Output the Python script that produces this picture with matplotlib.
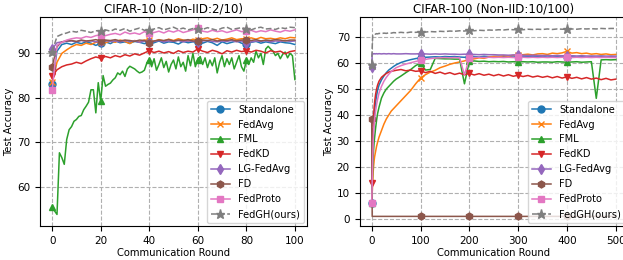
import matplotlib
matplotlib.use("Agg")
import matplotlib.pyplot as plt

# ---- CIFAR-10, rounds 0..100 (every 2nd round) ----
rounds10 = list(range(0, 101, 2))
rounds10_fml = list(range(0, 101))

c10_standalone = [83.1, 90.5, 92.0, 92.3, 92.0, 92.5, 92.2, 92.6, 92.3, 91.8,
                  92.3, 92.6, 92.2, 92.8, 92.4, 92.6, 92.3, 92.7, 92.5, 92.2,
                  92.6, 92.4, 92.8, 92.3, 92.6, 92.5, 92.1, 92.7, 92.4, 92.6,
                  92.5, 92.3, 92.7, 92.4, 91.8, 92.6, 92.2, 92.5, 92.8, 92.3,
                  92.1, 92.5, 92.7, 92.3, 92.6, 92.4, 92.2, 92.6, 92.4, 92.3,
                  92.0]
c10_fedavg = [83.5, 88.0, 90.0, 90.8, 91.5, 92.0, 91.8, 92.3, 92.0, 92.5,
              92.6, 92.4, 92.8, 92.5, 93.0, 92.7, 92.2, 92.9, 92.6, 93.0,
              93.0, 92.7, 93.1, 92.8, 93.2, 92.9, 93.3, 93.0, 92.8, 93.2,
              93.0, 93.3, 93.5, 93.1, 93.4, 93.0, 93.2, 93.5, 93.1, 93.3,
              93.3, 93.5, 93.2, 93.6, 93.3, 93.4, 93.2, 93.5, 93.3, 93.6,
              93.5]
c10_fml = [55.3, 54.5, 53.7, 67.6, 66.5, 65.0, 70.6, 72.8, 73.5, 74.7,
           75.1, 75.8, 76.0, 77.3, 78.1, 79.0, 81.8, 81.8, 76.6, 83.4,
           79.2, 85.0, 82.6, 83.0, 83.3, 84.0, 84.5, 85.6, 85.2, 86.0,
           84.8, 86.5, 87.1, 86.8, 86.5, 86.0, 85.6, 85.8, 86.2, 87.8,
           88.6, 87.0, 88.8, 86.2, 87.5, 89.0, 86.8, 88.2, 85.8, 87.5,
           88.5, 86.5, 89.2, 87.0, 88.0, 86.0, 89.5, 87.2, 90.0, 87.0,
           88.6, 89.3, 87.5, 89.0, 86.8, 88.5, 87.2, 89.0, 85.6, 88.0,
           89.5, 87.0, 88.8, 87.5, 89.0, 86.5, 88.0, 89.5, 87.0, 86.0,
           88.4, 87.5, 89.0, 88.0, 90.5, 89.0, 90.0, 87.5, 91.0, 91.6,
           91.0, 90.5, 89.5, 90.0, 88.8, 89.8, 90.3, 89.0, 90.0, 89.5,
           84.1]
c10_fedkd = [84.8, 86.3, 87.0, 87.4, 87.6, 88.0, 87.7, 88.3, 88.8, 89.2,
             88.9, 89.3, 89.0, 89.5, 89.2, 89.7, 89.4, 89.9, 89.6, 90.1,
             90.6, 90.2, 90.5, 90.1, 90.4, 90.0, 90.6, 90.2, 90.5, 90.3,
             91.0, 90.5, 90.2, 90.7, 90.4, 89.9, 90.6, 90.3, 90.7, 90.4,
             90.6, 90.3, 90.7, 90.5, 90.1, 90.6, 90.3, 90.5, 89.9, 90.4,
             90.6]
c10_lgfedavg = [91.0, 92.4, 92.6, 92.7, 92.8, 92.6, 92.9, 92.7, 92.8, 92.6,
                92.8, 92.9, 92.7, 92.8, 92.6, 92.9, 92.7, 92.8, 92.5, 92.8,
                92.5, 92.7, 92.9, 92.6, 92.8, 92.7, 92.9, 92.6, 92.8, 92.7,
                92.6, 92.8, 92.9, 92.7, 92.6, 92.8, 92.7, 92.9, 92.6, 92.8,
                92.3, 92.6, 92.8, 92.7, 92.9, 92.6, 92.8, 92.7, 92.9, 92.7,
                92.8]
c10_fd = [87.0, 91.5, 92.6, 92.8, 92.9, 92.7, 93.0, 92.8, 92.9, 93.1,
          92.8, 93.0, 92.9, 93.1, 92.8, 93.0, 92.9, 92.7, 93.0, 92.9,
          92.4, 92.8, 93.0, 92.9, 93.1, 92.8, 93.0, 92.9, 93.1, 92.8,
          92.8, 93.0, 92.9, 93.1, 92.8, 93.0, 92.9, 93.1, 92.8, 93.0,
          93.0, 92.9, 93.1, 92.8, 93.0, 92.9, 93.1, 93.0, 92.8, 93.0,
          93.0]
c10_fedproto = [81.7, 91.8, 92.5, 93.0, 93.3, 93.5, 93.4, 93.8, 93.6, 94.0,
                94.2, 94.0, 94.3, 94.5, 94.2, 94.8, 94.4, 94.6, 94.3, 94.9,
                94.5, 94.7, 95.0, 94.6, 95.1, 94.8, 95.2, 94.7, 95.0, 95.3,
                95.8, 95.0, 94.8, 95.2, 94.9, 95.1, 94.7, 95.0, 95.3, 94.9,
                95.0, 95.2, 94.8, 95.1, 94.9, 95.3, 95.0, 94.8, 95.2, 95.0,
                95.3]
c10_fedgh = [90.4, 93.8, 94.3, 94.6, 95.0, 94.8, 95.2, 95.0, 94.7, 95.1,
             95.1, 95.3, 95.0, 95.5, 95.2, 95.6, 95.0, 95.4, 95.7, 95.2,
             95.2, 95.5, 95.8, 95.3, 95.6, 95.9, 95.4, 95.7, 95.3, 95.6,
             95.6, 95.4, 95.8, 95.5, 95.2, 95.7, 95.9, 95.4, 95.6, 95.8,
             95.5, 95.3, 95.7, 95.9, 95.5, 95.6, 95.4, 95.8, 95.6, 95.9,
             95.8]

# ---- CIFAR-100, rounds 0..500 ----
rounds100 = [0, 1, 2, 3, 4, 5, 6, 8, 10, 12, 15, 20, 25, 30, 35, 40, 45, 50] + list(range(60, 501, 10))
rounds100_fd = [0, 1, 100, 200, 300, 400, 500]

c100_standalone = [6, 15, 24, 31, 36, 39, 41.5, 45, 47.5, 49.5, 51.5, 53.5, 55, 56.3, 57.3, 58, 58.7, 59.3,
                   60.2, 60.8, 61.3, 61.7, 62.0, 62.2, 62.3, 62.4, 62.3, 62.5,
                   62.4, 62.5, 62.3, 62.2, 62.4, 62.5, 62.3, 62.6, 62.4, 62.5,
                   62.6, 62.4, 62.5, 62.3, 62.6, 62.4, 62.5, 62.6, 62.4, 62.5,
                   62.3, 62.5, 62.6, 62.4, 62.5, 62.6, 62.4, 62.5, 62.3, 62.5,
                   62.4, 62.6, 62.5, 62.4, 62.5]
c100_fedavg = [6, 10, 14, 18, 20.5, 22.5, 24, 26, 28, 29.5, 31.5, 34, 36.5, 38.5, 40, 41.5, 42.5, 43.5,
               45.5, 47.5, 49.5, 52, 54.2, 55.5, 56.5, 57.2, 58.2, 58.8,
               59.5, 60, 60.4, 60.8, 61.5, 61.6, 62, 61.8, 62.3, 62.5,
               62.4, 62.8, 62.6, 63, 63, 63.2, 63.4, 63.1, 63.5, 63.6,
               63.3, 63.8, 63.6, 63.9, 64.5, 63.8, 64, 63.6, 63.8, 63.4,
               63.6, 63.3, 63.5, 63.2, 63.3]
c100_fml = [6, 13, 19, 24, 27, 29.5, 31.5, 35, 38, 40.5, 43, 46.5, 48.5, 50, 51, 52, 53, 53.8,
            55, 56.3, 57.5, 59, 60, 57.3, 57.5, 61.8, 61.7, 61.6,
            61.6, 61.5, 61.5, 52, 60.6, 60.8, 60.6, 60.7, 60.5, 60.6,
            60.5, 60.6, 60.4, 60.5, 60.4, 60.5, 60.4, 60.5, 60.3, 60.4,
            60.4, 60.3, 60.5, 60.4, 60.3, 60.4, 60.5, 60.3, 60.4, 60.5,
            46.4, 61.2, 61.3, 61.2, 61.3]
c100_fedkd = [14, 22, 30, 36, 40, 43, 45, 48, 50, 51.5, 53, 54.5, 55.3, 56, 56.5, 56.8, 57, 57.2,
              57.5, 57, 57.3, 56.8, 57, 56.3, 56.8, 56, 56.5, 55.8,
              56.3, 55.6, 56.1, 55.5, 56, 55.4, 55.9, 55.3, 55.7, 55.1,
              55.6, 55, 55.5, 54.9, 55.3, 54.8, 55.2, 54.6, 55, 54.5,
              54.9, 54.3, 54.8, 54.2, 54.7, 54.1, 54.5, 53.9, 54.4, 53.8,
              54.2, 53.6, 54.1, 53.5, 53.8]
c100_lgfedavg = [58.5, 63.5, 63.6, 63.5, 63.6, 63.5, 63.6, 63.5, 63.6, 63.5, 63.6, 63.5, 63.6, 63.5, 63.6, 63.5, 63.6, 63.5,
                 63.5, 63.6, 63.5, 63.5, 63.6, 63.5, 63.4, 63.5, 63.4, 63.5,
                 63.4, 63.4, 63.3, 63.4, 63.3, 63.3, 63.2, 63.3, 63.2, 63.2,
                 63.1, 63.1, 63.0, 63.1, 63.0, 63.0, 62.9, 63.0, 62.9, 62.9,
                 62.9, 62.8, 62.9, 62.8, 62.8, 62.8, 62.7, 62.8, 62.7, 62.7,
                 62.7, 62.7, 62.6, 62.7, 62.6]
c100_fd = [38.5, 1.0, 1.0, 1.0, 1.0, 1.0, 1.0]
c100_fedproto = [6, 14, 22, 30, 34, 36.5, 38.5, 41.5, 44, 46, 48.5, 51, 53, 54.5, 55.7, 56.7, 57.5, 58.2,
                 59, 59.6, 60.1, 60.6, 61.0, 61.4, 61.7, 61.9, 62.0, 62.1,
                 62.0, 62.1, 62.0, 55.4, 61.8, 62.1, 62.2, 62.1, 62.2, 62.1,
                 62.2, 62.1, 62.2, 62.1, 62.2, 62.2, 62.1, 62.2, 62.1, 62.2,
                 62.1, 62.2, 62.1, 62.2, 62.2, 62.1, 62.2, 62.1, 62.2, 62.1,
                 62.2, 62.1, 62.2, 62.1, 62.1]
c100_fedgh = [59.2, 66, 70.5, 70.8, 71.0, 71.0, 71.2, 71.1, 71.3, 71.2, 71.4, 71.3, 71.5, 71.4, 71.6, 71.5, 71.7, 71.6,
              71.8, 71.6, 71.9, 71.8, 72.0, 71.9, 72.1, 72.0, 72.2, 72.1,
              72.3, 72.2, 72.4, 72.3, 72.6, 72.4, 72.6, 72.5, 72.7, 72.6,
              72.8, 72.7, 72.9, 72.8, 72.9, 72.8, 73.0, 72.9, 73.0, 72.9,
              73.1, 72.9, 73.1, 73.0, 73.0, 73.1, 73.0, 73.2, 73.1, 73.2,
              73.1, 73.3, 73.2, 73.3, 73.3]

methods = ["Standalone", "FedAvg", "FML", "FedKD", "LG-FedAvg", "FD", "FedProto", "FedGH(ours)"]
colors = ["#1f77b4", "#ff7f0e", "#2ca02c", "#d62728", "#9467bd", "#8c564b", "#e377c2", "#7f7f7f"]
markers = ["o", "x", "^", "v", "d", "h", "s", "*"]
styles = ["-", "-", "-", "-", "-", "-", "-", "--"]

left_series = [(rounds10, c10_standalone), (rounds10, c10_fedavg), (rounds10_fml, c10_fml),
               (rounds10, c10_fedkd), (rounds10, c10_lgfedavg), (rounds10, c10_fd),
               (rounds10, c10_fedproto), (rounds10, c10_fedgh)]
right_series = [(rounds100, c100_standalone), (rounds100, c100_fedavg), (rounds100, c100_fml),
                (rounds100, c100_fedkd), (rounds100, c100_lgfedavg), (rounds100_fd, c100_fd),
                (rounds100, c100_fedproto), (rounds100, c100_fedgh)]


def draw(ax, series, mark_rounds):
    for (x, y), name, c, m, ls in zip(series, methods, colors, markers, styles):
        idx = [x.index(r) for r in mark_rounds]
        ms = 6.5 if m == "*" else 5
        ax.plot(x, y, color=c, linestyle=ls, lw=1.1, marker=m, markersize=ms,
                markevery=idx, label=name)
    ax.grid(True, linestyle="--", color="#b0b0b0", lw=0.8)
    ax.tick_params(labelsize=7.5, length=3.5)
    ax.set_xlabel("Communication Round", fontsize=7.2, labelpad=2)
    ax.set_ylabel("Test Accuracy", fontsize=7.2, labelpad=2)
    ax.legend(loc="lower right", fontsize=7.1, borderaxespad=0.3, handlelength=2.0)


fig = plt.figure(figsize=(6.23, 2.6), dpi=100)
ax1 = fig.add_axes([40 / 623, 34 / 260, 267 / 623, 209 / 260])
ax2 = fig.add_axes([359.5 / 623, 34 / 260, 268.5 / 623, 209 / 260])

draw(ax1, left_series, [0, 20, 40, 60, 80])
ax1.set_xlim(-5, 105)
ax1.set_ylim(51.1, 98.2)
ax1.set_xticks([0, 20, 40, 60, 80, 100])
ax1.set_yticks([60, 70, 80, 90])
ax1.set_title("CIFAR-10 (Non-IID:2/10)", fontsize=8.5, pad=3)

draw(ax2, right_series, [0, 100, 200, 300, 400])
ax2.set_xlim(-25, 525)
ax2.set_ylim(-2.7, 77.7)
ax2.set_xticks([0, 100, 200, 300, 400, 500])
ax2.set_yticks([0, 10, 20, 30, 40, 50, 60, 70])
ax2.set_title("CIFAR-100 (Non-IID:10/100)", fontsize=8.5, pad=3)

fig.savefig("out.png", dpi=100)
